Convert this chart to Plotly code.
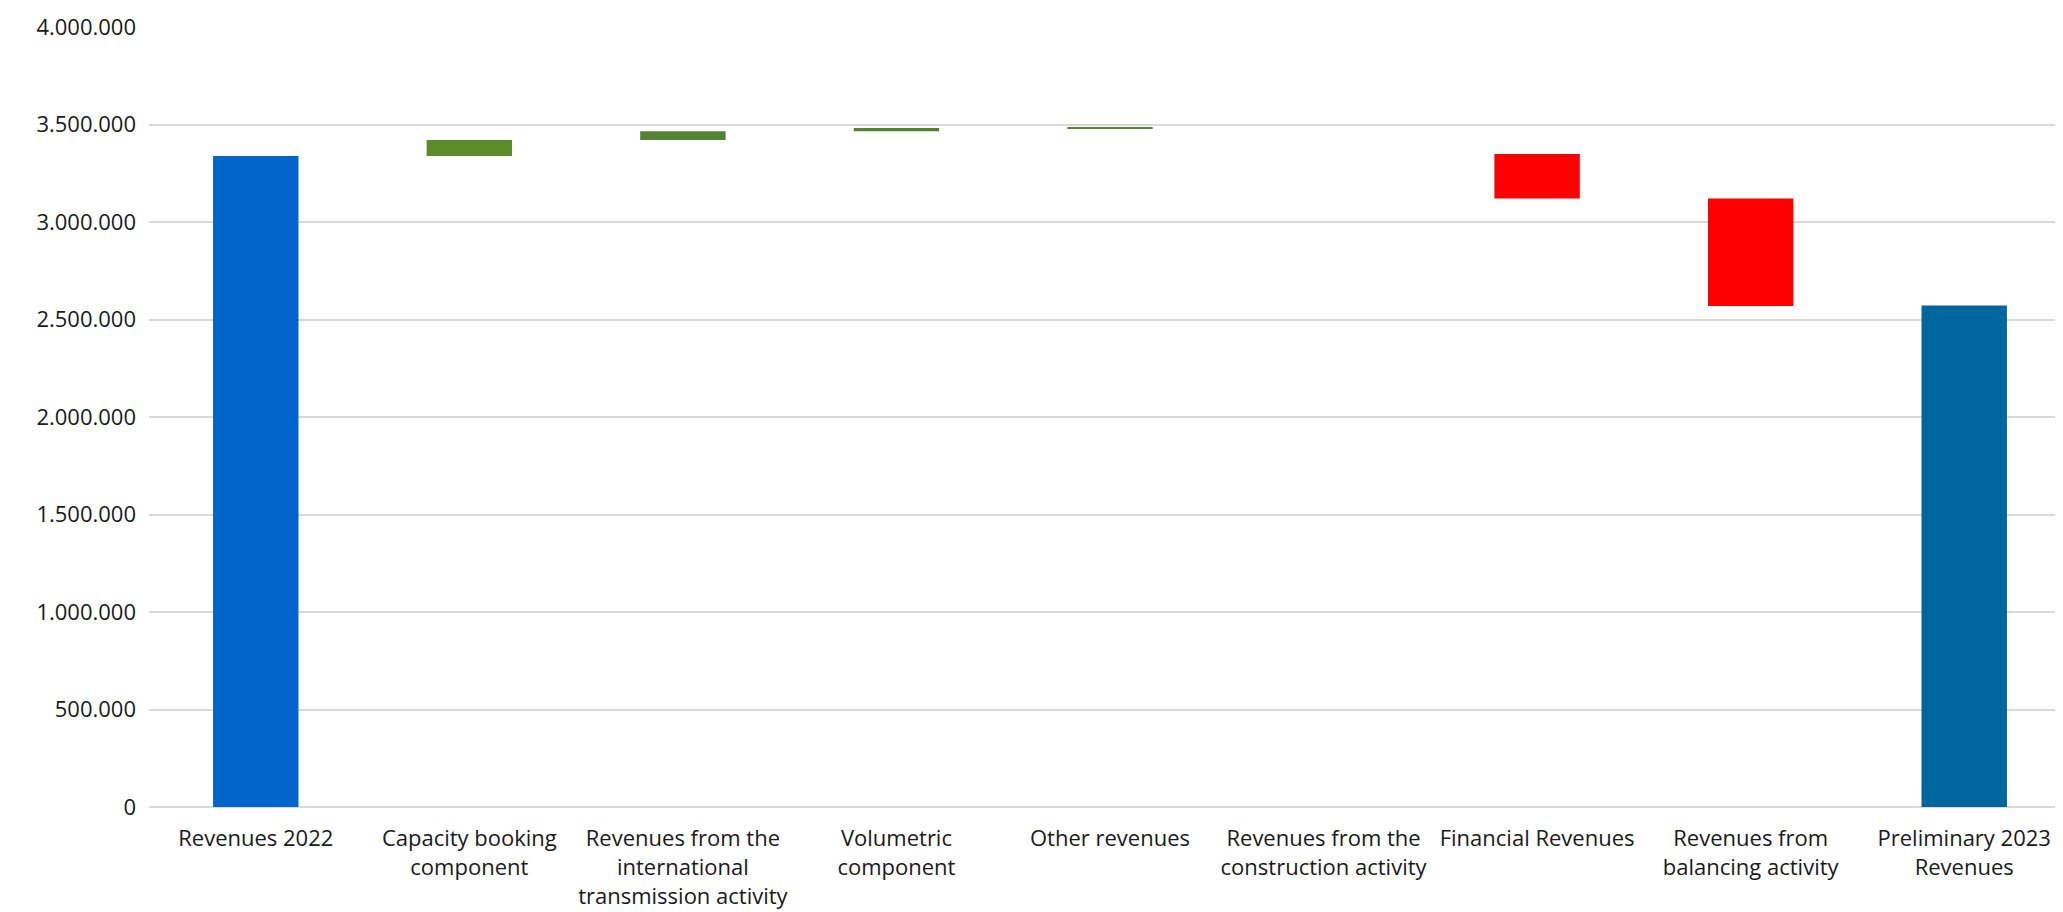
import plotly.graph_objects as go

categories = [
    "Revenues 2022",
    "Capacity booking<br>component",
    "Revenues from the<br>international<br>transmission activity",
    "Volumetric<br>component",
    "Other revenues",
    "Revenues from the<br>construction activity",
    "Financial Revenues",
    "Revenues from<br>balancing activity",
    "Preliminary 2023<br>Revenues",
]
# start value, deltas, and final total
start_value = 3338000
deltas = [82000, 46000, 16000, 3000, -136000, -229000, -551000]
end_value = 2572000

colors = ["#0066CC", "#5B8C27", "#548235", "#548235", "#548235",
          "rgba(0,0,0,0)", "#FF0000", "#FF0000", "#00669E"]

bases = [0]
heights = [start_value]
running = start_value
for d in deltas:
    if d >= 0:
        bases.append(running)
        heights.append(d)
    else:
        bases.append(running + d)
        heights.append(-d)
    running += d
bases.append(0)
heights.append(end_value)

x_idx = list(range(len(categories)))

fig = go.Figure(go.Bar(
    x=x_idx, y=heights, base=bases,
    marker=dict(color=colors, line=dict(width=0)),
    width=0.40, hoverinfo="skip",
))

fig.update_layout(
    width=2063, height=912,
    margin=dict(l=141, r=0, t=19, b=113, autoexpand=False),
    paper_bgcolor="white", plot_bgcolor="white",
    separators=",.",
    showlegend=False,
    font=dict(family="Open Sans, Noto Sans, sans-serif", size=22, color="#1a1a1a"),
    xaxis=dict(
        range=[-0.5, 8.5], automargin=False,
        tickmode="array", tickvals=x_idx, ticktext=categories,
        showgrid=False, zeroline=False, showline=False,
        ticks="outside", ticklen=12, tickcolor="rgba(0,0,0,0)",
        tickfont=dict(size=22),
    ),
    yaxis=dict(
        range=[0, 4000000], tickmode="linear", tick0=0, dtick=500000,
        tickformat=",d", automargin=False,
        showgrid=True, gridcolor="#D9D9D9", gridwidth=1.5,
        zeroline=True, zerolinecolor="#D9D9D9", zerolinewidth=1.5,
        showline=False, ticks="", ticklabelstandoff=12,
        tickfont=dict(size=22),
    ),
)

fig.write_html("out.html")
